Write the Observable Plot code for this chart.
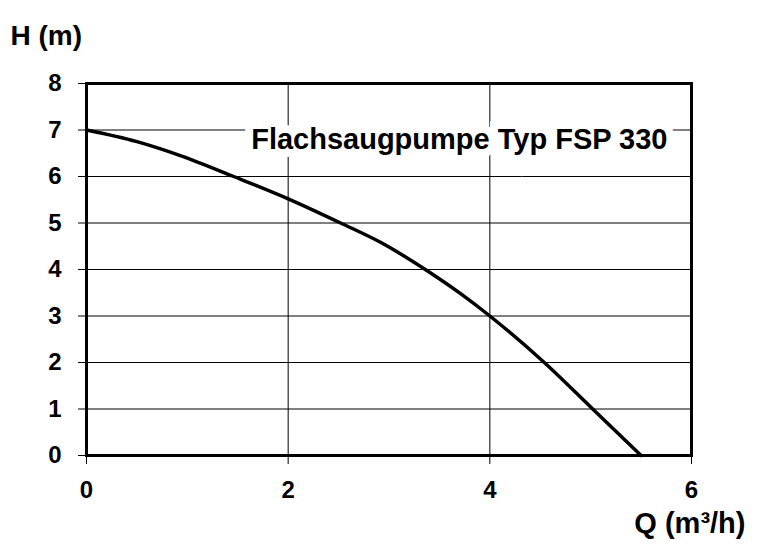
<!DOCTYPE html>
<html>
<head>
<meta charset="utf-8">
<script src="https://cdn.jsdelivr.net/npm/d3@7"></script>
<script src="https://cdn.jsdelivr.net/npm/@observablehq/plot@0.6"></script>
<style>
  html, body { margin: 0; padding: 0; background: white; }
  #chart svg { display: block; }
</style>
</head>
<body>
<div id="chart"></div>
<script>
// Pump curve: flow Q (m³/h) vs head H (m)
const flowQ = [0, 0.5, 0.93, 1.46, 2.0, 2.52, 2.92, 3.36, 3.71, 4.0, 4.54, 5.02, 5.5];
const headH = [7, 6.75, 6.45, 6.0, 5.52, 5.0, 4.58, 4.0, 3.48, 3.0, 2.0, 1.0, 0];
const xTicks = [0, 2, 4, 6];
const yTicks = [0, 1, 2, 3, 4, 5, 6, 7, 8];
const xGrid = [2, 4];
const yGrid = [1, 2, 3, 4, 5, 6, 7];
const titleText = ["Flachsaugpumpe Typ FSP 330"];
const yLabel = ["H (m)"];
const xLabel = ["Q (m³/h)"];

const data = flowQ.map((q, i) => ({q, h: headH[i]}));
const font = "'Liberation Sans', Arial, Helvetica, sans-serif";

const chart = Plot.plot({
  width: 757,
  height: 556,
  marginLeft: 86,
  marginRight: 66,
  marginTop: 83,
  marginBottom: 101,
  style: {fontFamily: font, fontWeight: "bold", color: "black", background: "white", overflow: "visible"},
  x: {domain: [0, 6]},
  y: {domain: [0, 8]},
  marks: [
    Plot.gridX(xGrid, {stroke: "black", strokeOpacity: 1, strokeWidth: 1}),
    Plot.gridY(yGrid, {stroke: "black", strokeOpacity: 1, strokeWidth: 1}),
    Plot.axisX(xTicks, {tickSize: 9, tickPadding: 16, fontSize: 24, fontWeight: "bold", label: null, stroke: "black", fill: "black"}),
    Plot.axisY(yTicks, {tickSize: 8, tickPadding: 17, fontSize: 24, fontWeight: "bold", label: null, stroke: "black", fill: "black"}),
    Plot.text(titleText, {
      frameAnchor: "top-right", textAnchor: "end", lineAnchor: "middle",
      dx: -24, dy: 56, fontSize: 29, fontWeight: "bold", fill: "black",
      stroke: "white", strokeWidth: 16, strokeLinejoin: "miter"
    }),
    Plot.line(data, {x: "q", y: "h", curve: "monotone-x", stroke: "black", strokeWidth: 3.5}),
    Plot.frame({stroke: "black", strokeWidth: 3}),
    Plot.text(yLabel, {frameAnchor: "top-left", textAnchor: "start", lineAnchor: "middle", dx: -76, dy: -47, fontSize: 28, fontWeight: "bold", fill: "black"}),
    Plot.text(xLabel, {frameAnchor: "bottom-right", textAnchor: "end", lineAnchor: "middle", dx: 54, dy: 68, fontSize: 29, fontWeight: "bold", fill: "black"})
  ]
});
document.getElementById("chart").appendChild(chart);
</script>
</body>
</html>
